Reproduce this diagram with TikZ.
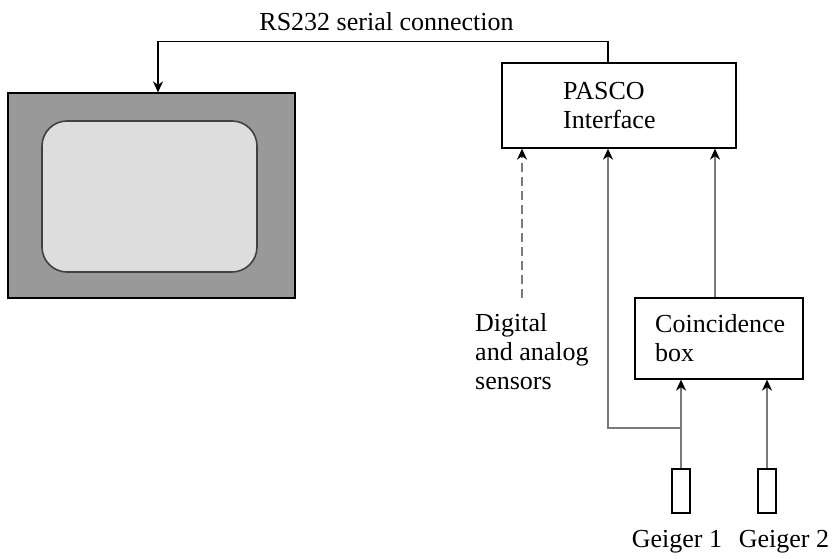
\documentclass[tikz,border=0pt]{standalone}
\usepackage{fontspec}
\setmainfont{Liberation Serif}
\usetikzlibrary{arrows.meta}
\definecolor{monouter}{HTML}{999999}
\definecolor{moninner}{HTML}{DDDDDD}
\definecolor{monedge}{HTML}{404040}
\definecolor{wire}{HTML}{7A7A7A}
\begin{document}
\begin{tikzpicture}[x=1pt,y=-1pt,
  lbl/.style={font=\fontsize{26}{29}\selectfont, inner sep=0pt, align=left},
  box/.style={draw=black, line width=1.3pt, fill=white, inner sep=0pt},
  tip/.style={-{Stealth[length=11pt,width=10pt,inset=3.5pt,color=black]}},
  ctl/.style={draw=black, line width=1.3pt, tip},
  sig/.style={draw=wire, line width=2.2pt, tip},
  dsig/.style={sig, dash pattern=on 9pt off 5pt}]
\useasboundingbox (0,0) rectangle (832,559);
% monitor
\node[draw=black, line width=1.2pt, fill=monouter, minimum width=287pt, minimum height=205pt, inner sep=0pt] (monitor) at (151.5,195.5) {};
\node[draw=monedge, line width=1.6pt, fill=moninner, rounded corners=25pt, minimum width=215pt, minimum height=151pt, inner sep=0pt] (screen) at (149.5,196.5) {};
% boxes
\node[box, minimum width=234pt, minimum height=85pt] (pasco) at (619,105.5) {};
\node[lbl, anchor=north west] (pascotxt) at (563,82) {PASCO\\Interface};
\node[box, minimum width=168pt, minimum height=81pt] (coinc) at (719,338.5) {};
\node[lbl, anchor=north west] (cointxt) at (655,314) {Coincidence\\box};
\node[box, minimum width=18pt, minimum height=44pt] (g1) at (681,491) {};
\node[box, minimum width=18pt, minimum height=44pt] (g2) at (767,491) {};
\node[lbl, anchor=base] (g1txt) at (677,547) {Geiger 1};
\node[lbl, anchor=base] (g2txt) at (784,547) {Geiger 2};
\node[lbl, anchor=north west] (sensors) at (475,313) {Digital\\and analog\\sensors};
\node[lbl, anchor=base] (rs) at (386.5,31) {RS232 serial connection};
% connectors
\draw[ctl] ([xshift=-11pt]pasco.north) -- ++(0,-21) -| ([xshift=6.5pt]monitor.north);
\coordinate (dsrc) at (522,298);
\draw[dsig] (dsrc) -- (dsrc |- pasco.south);
\coordinate (junc) at (608,428);
\draw[sig] (g1.north) |- (junc) -- (junc |- pasco.south);
\draw[sig] (g1.north) -- (g1.north |- coinc.south);
\draw[sig] (g2.north) -- (g2.north |- coinc.south);
\draw[sig] ([xshift=-4pt]coinc.north) -- ([xshift=-4pt]coinc.north |- pasco.south);
\end{tikzpicture}
\end{document}
